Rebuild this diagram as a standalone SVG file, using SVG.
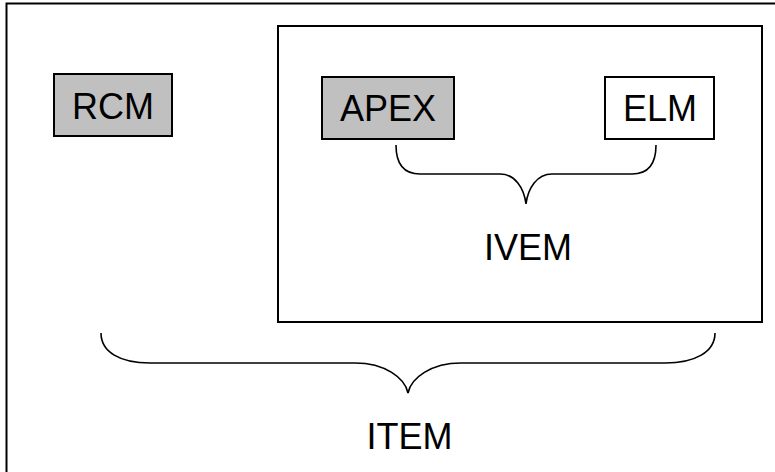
<svg xmlns="http://www.w3.org/2000/svg" width="775" height="472" viewBox="0 0 775 472">
<style>
.frame{fill:none;stroke:#000;stroke-width:2}
.box{stroke:#000;stroke-width:2}
.grey{fill:#c0c0c0}
.white{fill:#fff}
.brace{fill:none;stroke:#000;stroke-width:1.6}
.lbl{font-family:"Liberation Sans",Arial,sans-serif;font-size:36px;fill:#000;text-anchor:middle}
</style>
<rect width="775" height="472" fill="#fff"/>
<g id="item-frame">
<rect class="frame" x="6.5" y="3.5" width="800" height="500"/>
</g>
<g id="ivem-frame">
<rect class="frame" x="278" y="26" width="484" height="296"/>
</g>
<g id="rcm">
<rect class="box grey" x="54" y="74" width="118" height="62"/>
<text class="lbl" x="113" y="119">RCM</text>
</g>
<g id="apex">
<rect class="box grey" x="322" y="77" width="132" height="62"/>
<text class="lbl" x="388" y="121">APEX</text>
</g>
<g id="elm">
<rect class="box white" x="605" y="77" width="109" height="62"/>
<text class="lbl" x="660" y="121">ELM</text>
</g>
<g id="connectors">
<path class="brace" d="M396,145 C396,165 405,174 420,174 L500,174 C515,174 524,188 526,204 C528,188 537,174 552,174 L632,174 C647,174 656,165 656,145"/>
<path class="brace" d="M101,333 C101,352 120,363 150,363 L355,363 C385,363 405,378 408,393 C411,378 431,363 461,363 L665,363 C695,363 715,352 715,333"/>
</g>
<g id="ivem-label">
<text class="lbl" x="528" y="260">IVEM</text>
</g>
<g id="item-label">
<text class="lbl" x="409.5" y="449">ITEM</text>
</g>
</svg>
